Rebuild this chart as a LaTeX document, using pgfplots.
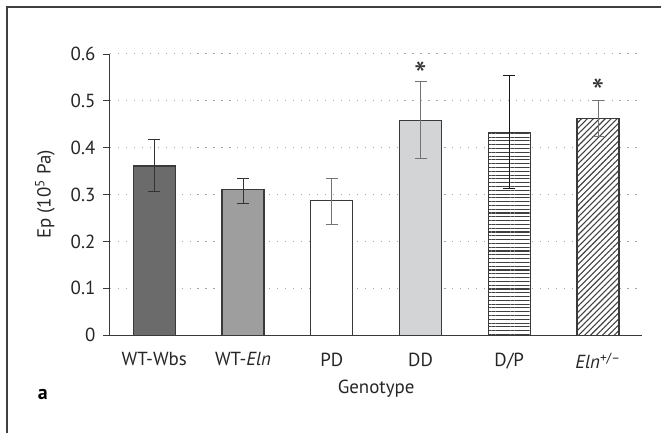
\documentclass[border=0pt]{standalone}
\usepackage{pgfplots}
\pgfplotsset{compat=1.18}
\usetikzlibrary{patterns,patterns.meta}
\usepackage{fontspec}
\setmainfont{PT Sans}
\definecolor{edge}{HTML}{3A3A3A}
\definecolor{c1}{HTML}{6B6B6B}
\definecolor{c2}{HTML}{9E9E9E}
\definecolor{c4}{HTML}{D3D4D6}
\begin{document}
\fontsize{19}{22}\selectfont
\begin{tikzpicture}
\begin{axis}[
  scale only axis, width=533bp, height=281.5bp,
  xmin=-0.5, xmax=5.5, ymin=0, ymax=0.6,
  axis x line*=bottom, axis y line*=left,
  axis line style={edge, line width=0.8pt},
  ybar, bar width=42bp, bar shift=0pt,
  xtick={0,1,2,3,4,5},
  xticklabels={WT-Wbs, WT-\textit{Eln}, PD, DD, D/P, \textit{Eln}\textsuperscript{+/–}},
  minor xtick={-0.5,0.5,1.5,2.5,3.5,4.5,5.5},
  xtick style={draw=none},
  minor x tick style={edge, line width=0.8pt},
  ytick={0,0.1,0.2,0.3,0.4,0.5,0.6},
  ytick style={edge, line width=0.8pt},
  tick align=outside, major tick length=7bp, minor tick length=7bp,
  /pgf/number format/assume math mode=true,
  ticklabel style={font=\fontsize{19}{22}\selectfont, text=black!85},
  xticklabel style={yshift=-4bp},
  yticklabel style={xshift=-1bp},
  ymajorgrids, grid style={gray!70, line width=1pt, dash pattern=on 1.2pt off 6.8pt},
  ylabel={Ep (10\textsuperscript{5} Pa)},
  ylabel style={at={(axis description cs:-0.122,0.5)}, anchor=center, font=\fontsize{19}{22}\selectfont, text=black!85},
  xlabel={Genotype},
  xlabel style={at={(axis description cs:0.5,-0.19)}, anchor=center, font=\fontsize{19}{22}\selectfont, text=black!85},
  clip=false,
  error bars/y dir=both, error bars/y explicit,
]
\addplot[fill=c1, draw=edge, line width=1.2pt,
  error bars/error bar style={black!80, line width=1pt},
  error bars/error mark options={rotate=90, mark size=6bp, line width=1pt, black!80}]
  coordinates {(0,0.361) += (0,0.057) -= (0,0.055)};
\addplot[fill=c2, draw=edge, line width=1.2pt,
  error bars/error bar style={black!80, line width=1pt},
  error bars/error mark options={rotate=90, mark size=6bp, line width=1pt, black!80}]
  coordinates {(1,0.310) += (0,0.025) -= (0,0.029)};
\addplot[fill=white, draw=edge, line width=1.2pt,
  error bars/error bar style={black!55, line width=1pt},
  error bars/error mark options={rotate=90, mark size=6bp, line width=1pt, black!55}]
  coordinates {(2,0.287) += (0,0.048) -= (0,0.051)};
\addplot[fill=c4, draw=edge, line width=1.2pt,
  error bars/error bar style={black!55, line width=1pt},
  error bars/error mark options={rotate=90, mark size=6bp, line width=1pt, black!55}]
  coordinates {(3,0.458) += (0,0.083) -= (0,0.082)};
\addplot[fill=white, draw=edge, line width=1.2pt,
  postaction={pattern={Lines[angle=0,distance=3.8bp,line width=1.1bp]}, pattern color=black!75},
  error bars/error bar style={black!90, line width=1pt},
  error bars/error mark options={rotate=90, mark size=6bp, line width=1pt, black!90}]
  coordinates {(4,0.432) += (0,0.122) -= (0,0.120)};
\addplot[fill=white, draw=edge, line width=1.2pt,
  postaction={pattern={Lines[angle=45,distance=4.2bp,line width=1.1bp]}, pattern color=black!75},
  error bars/error bar style={black!55, line width=1pt},
  error bars/error mark options={rotate=90, mark size=6bp, line width=1pt, black!55}]
  coordinates {(5,0.463) += (0,0.038) -= (0,0.039)};
\node[font=\fontsize{36}{36}\selectfont, text=black!80] at (axis cs:3,0.555) {*};
\node[font=\fontsize{36}{36}\selectfont, text=black!80] at (axis cs:5,0.519) {*};
\node[font=\bfseries\fontsize{20}{22}\selectfont] at (axis description cs:-0.126,-0.212) {a};
\end{axis}
\draw[black!75, line width=1.3pt] (-103bp,-97.5bp) -- (-103bp,328.5bp) -- (552bp,328.5bp);
\useasboundingbox (-110bp,-97.5bp) rectangle (552bp,335.5bp);
\end{tikzpicture}
\end{document}
